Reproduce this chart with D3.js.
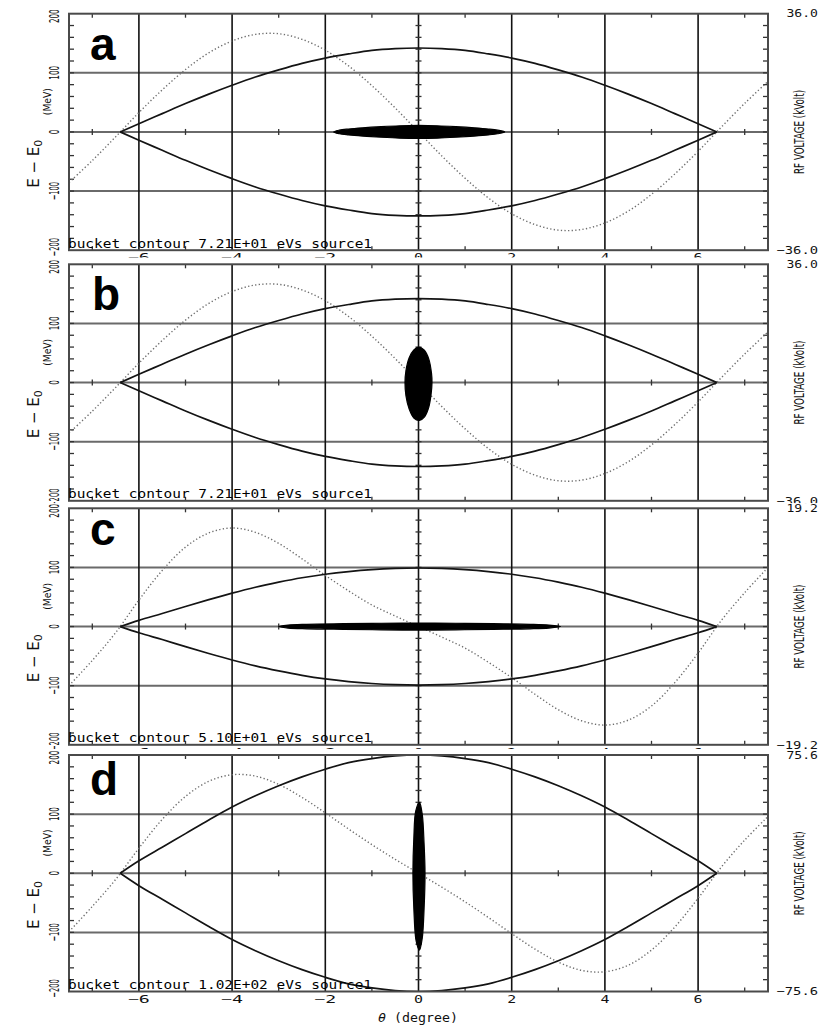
<!DOCTYPE html>
<html>
<head>
<meta charset="utf-8">
<script src="https://cdn.jsdelivr.net/npm/d3@7"></script>
<style>
  html, body { margin: 0; padding: 0; background: #fff; }
  svg { display: block; }
</style>
</head>
<body>
<svg id="chart" width="837" height="1028"></svg>
<script>
// ---- axes ----
const thetaMajor = [-6, -4, -2, 0, 2, 4, 6];
const thetaMinor = [-7, -5, -3, -1, 1, 3, 5, 7];
const thetaLabels = ["\u22126", "\u22124", "\u22122", "0", "2", "4", "6"];
const energyGrid = [-100, 0, 100];
const energyLabels = [[200, "200"], [100, "100"], [0, "0"], [-100, "\u2212100"], [-200, "\u2212200"]];
const energyMinor = d3.range(-180, 181, 20);

// ---- panel settings ----
const panelLetters = ["a", "b", "c", "d"];
const bucketTexts = [
  "bucket contour 7.21E+01 eVs source1",
  "bucket contour 7.21E+01 eVs source1",
  "bucket contour 5.10E+01 eVs source1",
  "bucket contour 1.02E+02 eVs source1"
];
const rfLimits = [36.0, 36.0, 19.2, 75.6];
const rfTopLabels = ["36.0", "36.0", "19.2", "75.6"];
const rfBottomLabels = ["\u221236.0", "\u221236.0", "\u221219.2", "\u221275.6"];

// ---- separatrix (upper half, MeV) ----
const bucketTheta = [-6.4, -6, -5.5, -5, -4.5, -4, -3.5, -3, -2.5, -2, -1.5, -1, -0.5, 0,
                     0.5, 1, 1.5, 2, 2.5, 3, 3.5, 4, 4.5, 5, 5.5, 6, 6.4];
const bucketA = [0, 14, 31, 48, 64, 79, 93, 105, 116, 125, 132, 138, 141, 142,
                 141, 138, 132, 125, 116, 105, 93, 79, 64, 48, 31, 14, 0];
const bucketB = [0, 14, 31, 48, 64, 79, 93, 105, 116, 125, 132, 138, 141, 142,
                 141, 138, 132, 125, 116, 105, 93, 79, 64, 48, 31, 14, 0];
const bucketC = [0, 10.5, 22, 34, 45.5, 56.5, 66.5, 75, 82.5, 88.5, 93, 96.3, 98.3, 99,
                 98.3, 96.3, 93, 88.5, 82.5, 75, 66.5, 56.5, 45.5, 34, 22, 10.5, 0];
const bucketD = [0, 21, 44, 67, 90, 112, 131, 148, 163, 176, 187, 194, 198.5, 200,
                 198.5, 194, 187, 176, 163, 148, 131, 112, 90, 67, 44, 21, 0];

// ---- RF voltage (kV) ----
const rfTheta = [-7.5, -7, -6.5, -6, -5.5, -5, -4.5, -4, -3.5, -3, -2.5, -2, -1.5, -1, -0.5, 0,
                 0.5, 1, 1.5, 2, 2.5, 3, 3.5, 4, 4.5, 5, 5.5, 6, 6.5, 7, 7.5];
const rfA = [-15.4, -8.7, -1.5, 5.9, 12.8, 19.0, 24.1, 27.7, 29.7, 29.9, 28.2, 24.9, 20.1, 14.1, 7.3, 0,
             -7.3, -14.1, -20.1, -24.9, -28.2, -29.9, -29.7, -27.7, -24.1, -19.0, -12.8, -5.9, 1.5, 8.7, 15.4];
const rfB = [-15.4, -8.7, -1.5, 5.9, 12.8, 19.0, 24.1, 27.7, 29.7, 29.9, 28.2, 24.9, 20.1, 14.1, 7.3, 0,
             -7.3, -14.1, -20.1, -24.9, -28.2, -29.9, -29.7, -27.7, -24.1, -19.0, -12.8, -5.9, 1.5, 8.7, 15.4];
const rfC = [-9.6, -5.5, -1.0, 4.3, 9.1, 12.9, 15.2, 16.0, 15.3, 13.5, 11.0, 8.3, 5.8, 3.5, 1.7, 0,
             -1.7, -3.5, -5.8, -8.3, -11.0, -13.5, -15.3, -16.0, -15.2, -12.9, -9.1, -4.3, 1.0, 5.5, 9.6];
const rfD = [-37.4, -21.2, -4.0, 16.0, 34.4, 49.1, 58.8, 63.0, 62.1, 56.8, 48.5, 38.6, 28.3, 18.3, 8.9, 0,
             -8.9, -18.3, -28.3, -38.6, -48.5, -56.8, -62.1, -63.0, -58.8, -49.1, -34.4, -16.0, 4.0, 21.2, 36.3];

// ---- particle distribution outlines [theta, MeV] ----
const beamA = [[-1.82, 0], [-1.7, 3], [-1.5, 5], [-1.2, 7], [-0.8, 9], [-0.4, 10.5], [0, 11], [0.4, 10.5],
               [0.8, 9], [1.2, 7], [1.5, 5], [1.7, 3], [1.85, 0], [1.7, -3], [1.5, -5], [1.2, -7],
               [0.8, -9], [0.4, -10.5], [0, -11], [-0.4, -10.5], [-0.8, -9], [-1.2, -7], [-1.5, -5], [-1.7, -3]];
const beamB = [[0, 60], [0.12, 55], [0.22, 40], [0.28, 15], [0.29, 0], [0.27, -20], [0.22, -42], [0.13, -58],
               [0.02, -64], [-0.1, -60], [-0.2, -45], [-0.27, -22], [-0.29, 0], [-0.27, 20], [-0.2, 42], [-0.1, 55]];
const beamC = [[-3.0, 0], [-2.8, 2.5], [-2.4, 3.8], [-1.6, 4.8], [-0.8, 5.6], [0, 6], [0.8, 5.6], [1.6, 4.8],
               [2.4, 3.8], [2.8, 2.5], [3.05, 0], [2.8, -2.5], [2.4, -3.8], [1.6, -4.8], [0.8, -5.6], [0, -6],
               [-0.8, -5.6], [-1.6, -4.8], [-2.4, -3.8], [-2.8, -2.5]];
const beamD = [[0.02, 120], [0.08, 100], [0.12, 50], [0.14, 0], [0.12, -60], [0.08, -110], [0.02, -130],
               [-0.05, -115], [-0.1, -60], [-0.12, 0], [-0.1, 60], [-0.06, 105]];

const buckets = [bucketA, bucketB, bucketC, bucketD];
const rfSeries = [rfA, rfB, rfC, rfD];
const beams = [beamA, beamB, beamC, beamD];

// ---- layout ----
const W = 837, H = 1028;
const panelTop = [13.7, 264.3, 508.3, 755];
const panelH = 236.5;
const coverPad = [0, 6.8, 5.2, 6];
const letterBase = [60, 310, 545, 795];
const letterX = [90, 92, 90, 90];

const svg = d3.select("#chart");
const x = d3.scaleLinear().domain([-7.5, 7.5]).range([69, 768]);
const monoFont = "'DejaVu Sans Mono', monospace";
const sansFont = "'DejaVu Sans', sans-serif";

// end labels on the energy axis sit slightly inside the frame
const labelNudge = v => (v === 200 ? 2.5 : v === -200 ? -3 : 0);

panelLetters.forEach((letter, i) => {
  const top = panelTop[i], bot = top + panelH;
  const y = d3.scaleLinear().domain([-200, 200]).range([bot, top]);
  const yRF = d3.scaleLinear().domain([-rfLimits[i], rfLimits[i]]).range([bot, top]);
  const g = svg.append("g");

  // each panel paints over the tail of the one above
  g.append("rect").attr("x", 0).attr("y", top - coverPad[i])
    .attr("width", W).attr("height", H - top + coverPad[i]).attr("fill", "#fff");

  const clipId = "clip" + i;
  svg.append("defs").append("clipPath").attr("id", clipId)
    .append("rect").attr("x", x(-7.5)).attr("y", top).attr("width", x(7.5) - x(-7.5)).attr("height", panelH);

  // horizontal grid
  g.selectAll(null).data(energyGrid).join("line")
    .attr("x1", x(-7.5)).attr("x2", x(7.5)).attr("y1", d => y(d)).attr("y2", d => y(d))
    .attr("stroke", "#6a6a6a").attr("stroke-width", 2);
  // vertical grid
  g.selectAll(null).data(thetaMajor).join("line")
    .attr("x1", d => x(d)).attr("x2", d => x(d)).attr("y1", top).attr("y2", bot)
    .attr("stroke", "#111").attr("stroke-width", 1.6);

  // minor ticks on left / right frame and on the center cross
  const tk = g.append("g").attr("stroke", "#333").attr("stroke-width", 1.3);
  tk.selectAll(null).data(energyMinor).join("line")
    .attr("x1", x(-7.5)).attr("x2", x(-7.5) + 5).attr("y1", d => y(d)).attr("y2", d => y(d));
  tk.selectAll(null).data(energyMinor).join("line")
    .attr("x1", x(7.5) - 5).attr("x2", x(7.5)).attr("y1", d => y(d)).attr("y2", d => y(d));
  tk.selectAll(null).data(energyMinor).join("line")
    .attr("x1", x(0) - 3).attr("x2", x(0) + 3).attr("y1", d => y(d)).attr("y2", d => y(d));
  tk.selectAll(null).data(thetaMinor).join("line")
    .attr("x1", d => x(d)).attr("x2", d => x(d)).attr("y1", top).attr("y2", top + 4);
  tk.selectAll(null).data(thetaMinor).join("line")
    .attr("x1", d => x(d)).attr("x2", d => x(d)).attr("y1", bot - 4).attr("y2", bot);
  tk.selectAll(null).data(thetaMinor).join("line")
    .attr("x1", d => x(d)).attr("x2", d => x(d)).attr("y1", y(0) - 3).attr("y2", y(0) + 3);

  const plot = g.append("g").attr("clip-path", `url(#${clipId})`);

  // RF voltage, dotted
  plot.append("path")
    .datum(rfTheta.map((t, k) => [t, rfSeries[i][k]]))
    .attr("d", d3.line().x(d => x(d[0])).y(d => yRF(d[1])).curve(d3.curveCatmullRom))
    .attr("fill", "none").attr("stroke", "#6e6e6e").attr("stroke-width", 1.4)
    .attr("stroke-dasharray", "1.3 2.3");

  // separatrix, upper and lower halves
  const sepLine = d3.line().x(d => x(d[0])).y(d => y(d[1])).curve(d3.curveMonotoneX);
  [1, -1].forEach(sign => {
    plot.append("path")
      .datum(bucketTheta.map((t, k) => [t, sign * buckets[i][k]]))
      .attr("d", sepLine)
      .attr("fill", "none").attr("stroke", "#141414").attr("stroke-width", 1.7);
  });

  // particle distribution
  plot.append("path")
    .datum(beams[i])
    .attr("d", d3.line().x(d => x(d[0])).y(d => y(d[1])).curve(d3.curveCatmullRomClosed))
    .attr("fill", "#000").attr("stroke", "#000").attr("stroke-width", 1.2);

  // frame
  g.append("rect").attr("x", x(-7.5)).attr("y", top).attr("width", x(7.5) - x(-7.5)).attr("height", panelH)
    .attr("fill", "none").attr("stroke", "#4a4a4a").attr("stroke-width", 2);

  // bucket caption
  g.append("text").attr("x", 68).attr("y", bot - 2.5)
    .attr("font-family", monoFont).attr("font-size", 11.5)
    .attr("textLength", 304).attr("lengthAdjust", "spacingAndGlyphs")
    .attr("fill", "#000").text(bucketTexts[i]);

  // panel letter
  g.append("text").attr("x", letterX[i]).attr("y", letterBase[i])
    .attr("font-family", "'Liberation Sans', Arial, sans-serif").attr("font-weight", "bold")
    .attr("font-size", 46).attr("fill", "#000").text(letter);

  // theta tick labels under the frame
  g.selectAll(null).data(thetaMajor).join("text")
    .attr("x", d => x(d)).attr("y", bot + 11)
    .attr("text-anchor", "middle").attr("font-family", monoFont).attr("font-size", 10.5)
    .attr("textLength", (d, k) => thetaLabels[k].length > 1 ? 22 : 9).attr("lengthAdjust", "spacingAndGlyphs")
    .attr("fill", "#111").text((d, k) => thetaLabels[k]);

  // energy tick labels, rotated
  g.selectAll(null).data(energyLabels).join("text")
    .attr("transform", d => `translate(58.5,${y(d[0]) + labelNudge(d[0])}) rotate(-90)`)
    .attr("text-anchor", "middle").attr("font-family", sansFont).attr("font-size", 14.5)
    .attr("textLength", d => d[1].length * 4.6).attr("lengthAdjust", "spacingAndGlyphs")
    .attr("fill", "#111").text(d => d[1]);

  // left axis title
  const lt = g.append("text")
    .attr("transform", `translate(38.5,${top + 150}) rotate(-90)`)
    .attr("text-anchor", "middle").attr("font-family", sansFont).attr("font-size", 15)
    .attr("fill", "#111");
  lt.append("tspan").text("E \u2212 E");
  lt.append("tspan").attr("font-size", 11).attr("dy", 3).text("0");
  g.append("text")
    .attr("transform", `translate(51,${top + 88}) rotate(-90)`)
    .attr("text-anchor", "middle").attr("font-family", sansFont).attr("font-size", 10)
    .attr("textLength", 27).attr("lengthAdjust", "spacingAndGlyphs")
    .attr("fill", "#111").text("(MeV)");

  // right axis limits
  g.append("text").attr("x", 818).attr("y", top + 3.7).attr("text-anchor", "end")
    .attr("font-family", monoFont).attr("font-size", 10.5)
    .attr("textLength", 31.5).attr("lengthAdjust", "spacingAndGlyphs")
    .attr("fill", "#111").text(rfTopLabels[i]);
  g.append("text").attr("x", 818).attr("y", bot + 3.7).attr("text-anchor", "end")
    .attr("font-family", monoFont).attr("font-size", 10.5)
    .attr("textLength", 41.5).attr("lengthAdjust", "spacingAndGlyphs")
    .attr("fill", "#111").text(rfBottomLabels[i]);

  // right axis title
  g.append("text")
    .attr("transform", `translate(804,${top + panelH / 2}) rotate(-90)`)
    .attr("text-anchor", "middle").attr("font-family", sansFont).attr("font-size", 14)
    .attr("textLength", 84).attr("lengthAdjust", "spacingAndGlyphs")
    .attr("fill", "#111").text("RF VOLTAGE (kVolt)");
});

// phase axis title
const xt = svg.append("text").attr("x", 418).attr("y", 1022).attr("text-anchor", "middle")
  .attr("font-family", monoFont).attr("font-size", 11.5)
  .attr("textLength", 80).attr("lengthAdjust", "spacingAndGlyphs").attr("fill", "#111");
xt.append("tspan").attr("font-style", "italic").text("\u03b8");
xt.append("tspan").text(" (degree)");
</script>
</body>
</html>
